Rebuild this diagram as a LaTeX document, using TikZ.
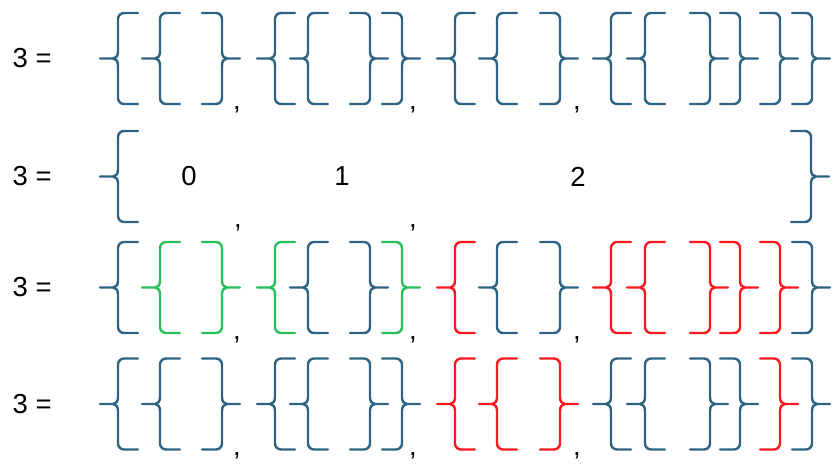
\documentclass[tikz,border=0pt]{standalone}
\usepackage{fontspec}
\setmainfont{Liberation Sans}
\definecolor{setblue}{RGB}{44,98,130}
\definecolor{setgreen}{RGB}{40,190,90}
\definecolor{setred}{RGB}{250,25,30}
\begin{document}
\begin{tikzpicture}[x=1pt,y=-1pt,
  bline/.style={line width=2.4pt, line cap=round, line join=round},
  sb/.style={color=setblue}, sg/.style={color=setgreen}, sr/.style={color=setred},
  lbl/.style={inner sep=0pt, font=\fontsize{27.5}{33}\selectfont, text=black},
  obr/.pic={\draw[bline] (20,-45.5) -- (6,-45.5) .. controls (2.7,-45.5) and (0,-42.8) .. (0,-39.5) -- (0,-7) .. controls (0,-2.5) and (-2,0) .. (-5,0) -- (-18,0) (-5,0) .. controls (-2,0) and (0,2.5) .. (0,7) -- (0,39.5) .. controls (0,42.8) and (2.7,45.5) .. (6,45.5) -- (20,45.5);},
  cbr/.pic={\draw[bline,xscale=-1] (20,-45.5) -- (6,-45.5) .. controls (2.7,-45.5) and (0,-42.8) .. (0,-39.5) -- (0,-7) .. controls (0,-2.5) and (-2,0) .. (-5,0) -- (-18,0) (-5,0) .. controls (-2,0) and (0,2.5) .. (0,7) -- (0,39.5) .. controls (0,42.8) and (2.7,45.5) .. (6,45.5) -- (20,45.5);}
]
\useasboundingbox (0,0) rectangle (835,466);

% labels
\node[lbl,anchor=west] (l1) at (12.5,58.5) {3 =};
\node[lbl,anchor=west] (l2) at (12.5,176.5) {3 =};
\node[lbl,anchor=west] (l3) at (12.5,287.5) {3 =};
\node[lbl,anchor=west] (l4) at (12.5,404) {3 =};

% row 1
\foreach \x in {118,160,275,308,455,497,611,645} \pic[sb] at (\x,58.5) {obr};
\foreach \x in {222,370,402,560,710,740,780,812} \pic[sb] at (\x,58.5) {cbr};
\node[lbl] (c11) at (237,110) {,};
\node[lbl] (c12) at (413,110) {,};
\node[lbl] (c13) at (577,110) {,};

% row 2
\pic[sb] at (118,176.5) {obr};
\pic[sb] at (811,176.5) {cbr};
\node[lbl] (d0) at (189,176.5) {0};
\node[lbl] (d1) at (342,176.5) {1};
\node[lbl] (d2) at (578,176.5) {2};
\node[lbl] (c21) at (238,228) {,};
\node[lbl] (c22) at (413,228) {,};

% row 3
\foreach \x in {118,308,497} \pic[sb] at (\x,287.5) {obr};
\foreach \x in {160,275} \pic[sg] at (\x,287.5) {obr};
\foreach \x in {455,611,645} \pic[sr] at (\x,287.5) {obr};
\foreach \x in {370,560,812} \pic[sb] at (\x,287.5) {cbr};
\foreach \x in {222,402} \pic[sg] at (\x,287.5) {cbr};
\foreach \x in {710,740,780} \pic[sr] at (\x,287.5) {cbr};
\node[lbl] (c31) at (237,340) {,};
\node[lbl] (c32) at (413,340) {,};
\node[lbl] (c33) at (577,340) {,};

% row 4
\foreach \x in {118,160,275,308,611,645} \pic[sb] at (\x,404) {obr};
\foreach \x in {455,497} \pic[sr] at (\x,404) {obr};
\foreach \x in {222,370,402,710,740,812} \pic[sb] at (\x,404) {cbr};
\foreach \x in {560,780} \pic[sr] at (\x,404) {cbr};
\node[lbl] (c41) at (237,456) {,};
\node[lbl] (c42) at (413,456) {,};
\node[lbl] (c43) at (577,456) {,};
\end{tikzpicture}
\end{document}
